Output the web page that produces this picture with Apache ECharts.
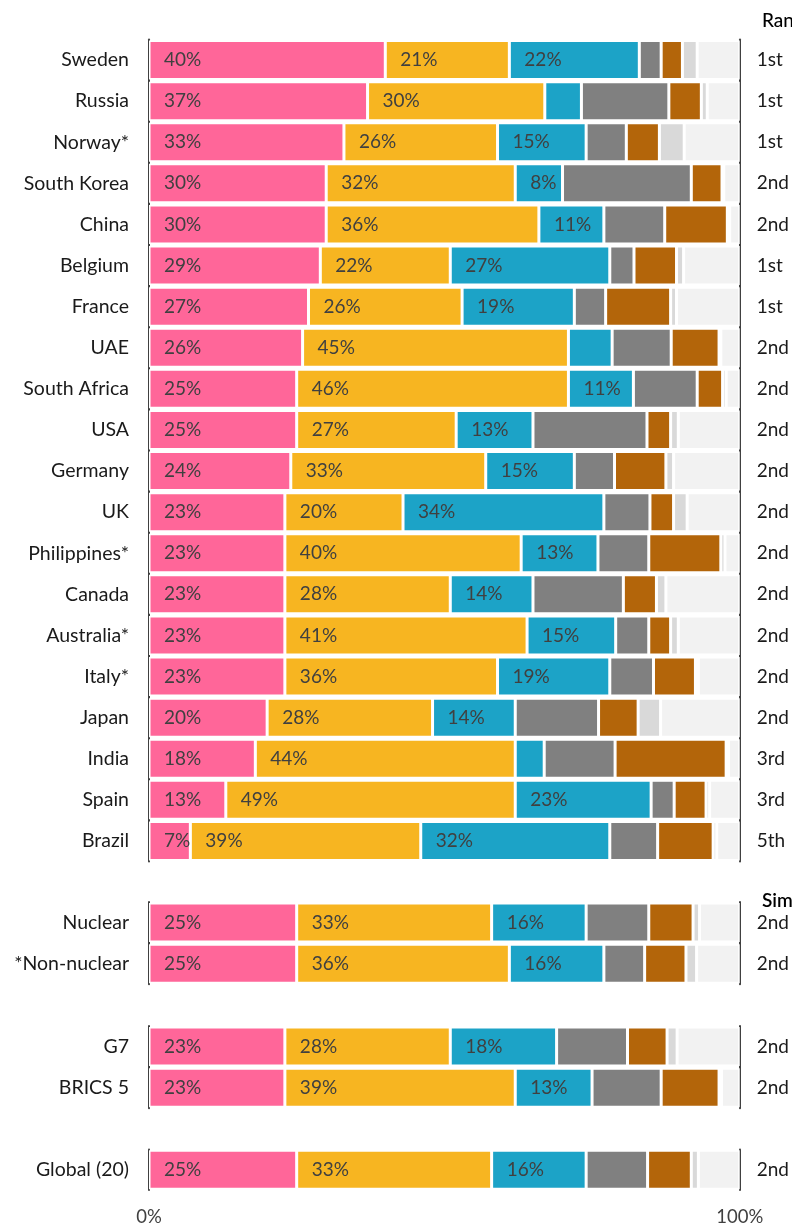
<!DOCTYPE html>
<html>
<head>
<meta charset="utf-8">
<script src="https://cdn.jsdelivr.net/npm/echarts@6/dist/echarts.min.js"></script>
<style>
  html, body { margin: 0; padding: 0; background: #ffffff; }
  #chart { width: 792px; height: 1227px; }
</style>
</head>
<body>
<div id="chart"></div>
<script>
// Row names, top to bottom, and how many rows fall in each block
const rowNames = [
  'Sweden', 'Russia', 'Norway*', 'South Korea', 'China', 'Belgium', 'France', 'UAE',
  'South Africa', 'USA', 'Germany', 'UK', 'Philippines*', 'Canada', 'Australia*', 'Italy*',
  'Japan', 'India', 'Spain', 'Brazil',
  'Nuclear', '*Non-nuclear',
  'G7', 'BRICS 5',
  'Global (20)'
];
const blockSizes = [20, 2, 2, 1];

const ranks = [
  '1st', '1st', '1st', '2nd', '2nd', '1st', '1st', '2nd',
  '2nd', '2nd', '2nd', '2nd', '2nd', '2nd', '2nd', '2nd',
  '2nd', '3rd', '3rd', '5th',
  '2nd', '2nd',
  '2nd', '2nd',
  '2nd'
];

// Segment shares (%), one array per colour band, same row order as rowNames.
// Whole-number shares in the first three bands are the printed ones.
const pinkShare   = [40, 37, 33, 30, 30, 29, 27, 26, 25, 25, 24, 23, 23, 23, 23, 23, 20, 18, 13, 7,  25, 25, 23, 23, 25];
const yellowShare = [21, 30, 26, 32, 36, 22, 26, 45, 46, 27, 33, 20, 40, 28, 41, 36, 28, 44, 49, 39, 33, 36, 28, 39, 33];
const blueShare   = [22, 6.2, 15, 8, 11, 27, 19, 7.4, 11, 13, 15, 34, 13, 14, 15, 19, 14, 4.9, 23, 32, 16, 16, 18, 13, 16];
const greyShare   = [3.7, 14.8, 6.8, 21.8, 10.3, 4.1, 5.3, 10.0, 10.8, 19.3, 6.8, 7.8, 8.6, 15.3, 5.6, 7.4, 14.1, 12.0, 3.9, 8.1, 10.6, 6.9, 12.0, 11.7, 10.4];
const brownShare  = [3.6, 5.5, 5.6, 5.2, 10.6, 7.2, 11.0, 8.1, 4.3, 4.0, 8.7, 4.0, 12.2, 5.6, 3.7, 7.1, 6.7, 18.8, 5.4, 9.4, 7.5, 7.0, 6.7, 9.8, 7.4];
const paleShare   = [2.5, 1.0, 4.2, 0.3, 0.4, 1.2, 1.0, 0.3, 0.6, 1.3, 1.3, 2.3, 0.7, 1.6, 1.3, 0.5, 3.8, 0.4, 0.6, 0.6, 1.1, 1.8, 1.7, 0.4, 1.2];
const restShare   = [7.2, 5.5, 9.4, 2.7, 1.7, 9.5, 10.7, 3.2, 2.3, 10.4, 11.2, 8.9, 2.5, 12.5, 10.4, 7.0, 13.4, 1.9, 5.1, 3.9, 6.8, 7.3, 10.6, 3.1, 7.0];

const xTicks = [0, 100];

const bands = [
  { data: pinkShare,   color: '#FF6699', labelled: true },
  { data: yellowShare, color: '#F7B521', labelled: true },
  { data: blueShare,   color: '#1CA3C7', labelled: true },
  { data: greyShare,   color: '#808080', labelled: false },
  { data: brownShare,  color: '#B3650A', labelled: false },
  { data: paleShare,   color: '#D9D9D9', labelled: false },
  { data: restShare,   color: '#F2F2F2', labelled: false }
];

// Vertical layout of the four blocks
const rowStep = 41.1;
const blockTops = [39.5, 902, 1026, 1149.5];
const plotLeft = 149;
const plotRight = 51;

const FONT = 'Lato, "Open Sans", sans-serif';

const grids = [], xAxes = [], yAxes = [], series = [];
let start = 0;
blockSizes.forEach((n, g) => {
  const names = rowNames.slice(start, start + n);
  const rk = ranks.slice(start, start + n);
  const last = g === blockSizes.length - 1;
  grids.push({ left: plotLeft, right: plotRight, top: blockTops[g], height: n * rowStep });
  xAxes.push({
    type: 'value', gridIndex: g, min: 0, max: 100, interval: 100,
    axisLine: { show: false }, axisTick: { show: false }, splitLine: { show: false },
    axisLabel: {
      show: last, margin: 18, formatter: v => (xTicks.includes(v) ? v + '%' : ''),
      color: '#404040', fontSize: 18.5, fontFamily: FONT
    }
  });
  yAxes.push({
    type: 'category', gridIndex: g, data: names, inverse: true, position: 'left',
    axisLine: { show: true, lineStyle: { color: '#404040', width: 2 } },
    axisTick: { show: false },
    axisLabel: { margin: 20, color: '#1a1a1a', fontSize: 19.5, fontFamily: FONT }
  });
  yAxes.push({
    type: 'category', gridIndex: g, data: rk, inverse: true, position: 'right',
    axisLine: { show: true, lineStyle: { color: '#404040', width: 2 } },
    axisTick: { show: false },
    axisLabel: { margin: 17, color: '#1a1a1a', fontSize: 19, fontFamily: FONT }
  });
  bands.forEach((b, k) => {
    series.push({
      type: 'bar', stack: 'mix' + g, xAxisIndex: g, yAxisIndex: 2 * g,
      data: b.data.slice(start, start + n),
      barWidth: 39,
      silent: true,
      itemStyle: { color: b.color, borderColor: '#ffffff', borderWidth: 1.5 },
      label: {
        show: b.labelled, position: 'insideLeft', distance: 15,
        color: '#404040', fontSize: 19, fontFamily: FONT,
        formatter: p => (Number.isInteger(p.value) ? p.value + '%' : '')
      }
    });
  });
  start += n;
});

const chart = echarts.init(document.getElementById('chart'), null, { renderer: 'canvas' });
chart.setOption({
  animation: false,
  backgroundColor: '#ffffff',
  grid: grids,
  xAxis: xAxes,
  yAxis: yAxes,
  series: series,
  graphic: [
    { type: 'text', left: 762, top: 11, style: { text: 'Rank', fill: '#000', font: '500 19px ' + FONT } },
    { type: 'text', left: 762, top: 891, style: { text: 'Similar', fill: '#000', font: '600 19px ' + FONT } }
  ]
});
</script>
</body>
</html>
